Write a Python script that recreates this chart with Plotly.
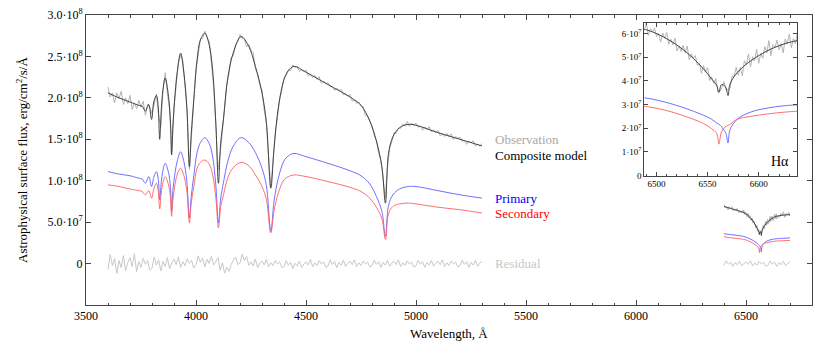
import plotly.graph_objects as go

# all fluxes in units of 1e8 erg/cm2/s/A

# model knots, blue part of the spectrum
model_wl = [3600, 3650, 3700, 3740, 3755, 3770, 3785, 3798, 3808, 3820,
            3828, 3835, 3842, 3850, 3860, 3875, 3884, 3889, 3895, 3905,
            3915, 3930, 3945, 3958, 3970, 3978, 3990, 4005, 4020, 4040,
            4060, 4075, 4090, 4102, 4112, 4125, 4145, 4170, 4205, 4240,
            4270, 4300, 4320, 4340, 4355, 4375, 4400, 4420, 4445, 4500,
            4600, 4700, 4750, 4790, 4820, 4845, 4861, 4875, 4895, 4925,
            4965, 5000, 5100, 5200, 5300]
composite = [2.06, 2.00, 1.95, 1.91, 1.90, 1.84, 1.92, 1.74, 1.95, 2.03,
             1.90, 1.50, 1.85, 2.10, 2.24, 2.02, 1.70, 1.31, 1.65, 2.05,
             2.32, 2.54, 2.30, 1.90, 1.17, 1.55, 1.98, 2.46, 2.70, 2.78,
             2.64, 2.35, 1.70, 0.97, 1.45, 1.75, 2.25, 2.55, 2.74, 2.62,
             2.38, 2.06, 1.70, 0.91, 1.40, 1.90, 2.22, 2.33, 2.38, 2.31,
             2.16, 2.01, 1.91, 1.72, 1.48, 1.17, 0.73, 1.33, 1.53, 1.64,
             1.68, 1.67, 1.58, 1.50, 1.42]
primary = [1.11, 1.08, 1.06, 1.03, 1.02, 0.97, 1.05, 0.93, 1.04, 1.11,
           1.03, 0.77, 0.98, 1.13, 1.21, 1.10, 0.92, 0.63, 0.88, 1.10,
           1.24, 1.35, 1.23, 1.00, 0.55, 0.80, 1.06, 1.34, 1.46, 1.52,
           1.45, 1.30, 0.95, 0.49, 0.78, 0.98, 1.24, 1.42, 1.52, 1.46,
           1.34, 1.15, 0.94, 0.39, 0.76, 1.04, 1.24, 1.30, 1.33, 1.29,
           1.21, 1.12, 1.06, 0.96, 0.81, 0.63, 0.33, 0.70, 0.83, 0.90,
           0.93, 0.93, 0.88, 0.83, 0.79]
secondary = [0.95, 0.93, 0.90, 0.88, 0.87, 0.83, 0.88, 0.79, 0.90, 0.97,
             0.88, 0.66, 0.85, 0.98, 1.05, 0.95, 0.80, 0.57, 0.77, 0.96,
             1.08, 1.15, 1.06, 0.88, 0.49, 0.72, 0.93, 1.15, 1.22, 1.25,
             1.20, 1.08, 0.80, 0.43, 0.68, 0.83, 1.04, 1.16, 1.22, 1.18,
             1.07, 0.93, 0.77, 0.37, 0.64, 0.86, 1.01, 1.05, 1.07, 1.05,
             0.99, 0.92, 0.87, 0.79, 0.68, 0.54, 0.29, 0.60, 0.69, 0.72,
             0.73, 0.72, 0.68, 0.65, 0.61]

# observed spectrum and residual, 10 A steps
obs_wl = list(range(3600, 5310, 10))
observation = [2.130, 2.010, 2.060, 1.940, 2.060, 1.990, 2.080, 1.920, 2.000, 1.930,
               2.030, 1.860, 1.940, 1.870, 1.970, 1.886, 1.960, 1.791, 1.928, 1.880,
               1.809, 1.932, 2.044, 1.787, 1.655, 2.093, 2.303, 2.048, 1.861, 1.349,
               1.890, 2.150, 2.425, 2.515, 2.450, 2.140, 1.830, 1.135, 1.640, 1.980,
               2.335, 2.520, 2.710, 2.715, 2.805, 2.725, 2.685, 2.420, 2.145, 1.685,
               1.130, 1.320, 1.635, 1.855, 2.160, 2.300, 2.480, 2.515, 2.640, 2.680,
               2.765, 2.720, 2.710, 2.615, 2.645, 2.575, 2.545, 2.350, 2.285, 2.155,
               2.088, 1.852, 1.704, 1.283, 0.931, 1.233, 1.565, 1.756, 1.974, 2.090,
               2.245, 2.266, 2.337, 2.329, 2.398, 2.367, 2.382, 2.319, 2.341, 2.310,
               2.338, 2.262, 2.284, 2.243, 2.271, 2.223, 2.255, 2.176, 2.204, 2.170,
               2.185, 2.136, 2.137, 2.089, 2.118, 2.087, 2.102, 2.039, 2.051, 2.020,
               2.038, 1.962, 1.974, 1.933, 1.951, 1.903, 1.895, 1.786, 1.784, 1.720,
               1.665, 1.546, 1.487, 1.329, 1.248, 1.027, 0.792, 1.139, 1.391, 1.470,
               1.578, 1.572, 1.634, 1.633, 1.681, 1.663, 1.715, 1.656, 1.694, 1.670,
               1.695, 1.646, 1.657, 1.609, 1.648, 1.617, 1.652, 1.589, 1.611, 1.580,
               1.608, 1.542, 1.564, 1.533, 1.571, 1.533, 1.565, 1.496, 1.534, 1.510,
               1.525, 1.476, 1.487, 1.439, 1.478, 1.457, 1.482, 1.419, 1.441, 1.420,
               1.448]
residual = [-0.072, 0.108, -0.024, 0.060, -0.120, 0.036, -0.048, 0.096, -0.084, 0.012,
            0.072, -0.036, 0.120, -0.096, 0.024, -0.045, 0.063, -0.009, 0.036, -0.081,
            -0.054, 0.081, -0.018, 0.045, -0.090, 0.027, -0.036, 0.072, -0.063, 0.009,
            0.052, -0.011, 0.080, -0.046, 0.024, -0.025, 0.059, 0.003, 0.038, -0.053,
            -0.012, 0.093, 0.016, 0.065, -0.040, 0.051, 0.002, 0.086, -0.019, 0.037,
            0.072, -0.081, 0.010, -0.116, -0.046, -0.095, -0.011, 0.043, 0.078, -0.013,
            0.008, 0.113, 0.036, 0.085, -0.020, 0.021, -0.028, 0.056, -0.049, 0.007,
            0.030, -0.015, 0.050, -0.040, 0.010, -0.025, 0.035, -0.005, 0.020, -0.045,
            -0.040, 0.035, -0.020, 0.015, -0.060, 0.005, -0.030, 0.030, -0.045, -0.005,
            0.020, -0.015, 0.050, -0.040, 0.010, -0.025, 0.035, -0.005, 0.020, -0.045,
            -0.030, 0.045, -0.010, 0.025, -0.050, 0.015, -0.020, 0.040, -0.035, 0.005,
            0.027, -0.014, 0.045, -0.036, 0.009, -0.023, 0.032, -0.005, 0.018, -0.041,
            -0.027, 0.041, -0.009, 0.023, -0.045, 0.014, -0.018, 0.036, -0.032, 0.005,
            0.027, -0.014, 0.045, -0.036, 0.009, -0.023, 0.032, -0.005, 0.018, -0.041,
            -0.027, 0.041, -0.009, 0.023, -0.045, 0.014, -0.018, 0.036, -0.032, 0.005,
            0.027, -0.014, 0.045, -0.036, 0.009, -0.023, 0.032, -0.005, 0.018, -0.041,
            -0.027, 0.041, -0.009, 0.023, -0.045, 0.014, -0.018, 0.036, -0.032, 0.005,
            0.027]

# H-alpha region
ha_model_wl = [6400, 6430, 6460, 6489, 6507, 6523, 6536, 6546, 6554, 6559,
               6561, 6563.5, 6566, 6568, 6570, 6572, 6579, 6592, 6608, 6625,
               6638, 6670, 6700]
ha_composite = [0.690, 0.665, 0.642, 0.617, 0.585, 0.542, 0.495, 0.450, 0.408, 0.380,
                0.351, 0.384, 0.382, 0.370, 0.338, 0.387, 0.435, 0.484, 0.526, 0.556,
                0.570, 0.585, 0.590]
ha_primary = [0.360, 0.350, 0.340, 0.328, 0.312, 0.292, 0.272, 0.255, 0.238, 0.222,
              0.217, 0.208, 0.192, 0.178, 0.138, 0.195, 0.238, 0.268, 0.285, 0.295,
              0.299, 0.305, 0.310]
ha_secondary = [0.325, 0.312, 0.302, 0.292, 0.278, 0.258, 0.238, 0.220, 0.198, 0.177,
                0.133, 0.184, 0.200, 0.208, 0.212, 0.217, 0.238, 0.250, 0.260, 0.268,
                0.272, 0.276, 0.280]
ha_obs_wl = list(range(6400, 6490, 6)) + list(range(6488, 6642, 2)) + list(range(6646, 6704, 6))
ha_observation = [0.711, 0.673, 0.686, 0.648, 0.685, 0.662, 0.687, 0.638, 0.660, 0.638,
                  0.666, 0.613, 0.635, 0.611, 0.639, 0.612, 0.646, 0.592, 0.621, 0.606,
                  0.623, 0.587, 0.601, 0.564, 0.602, 0.580, 0.604, 0.554, 0.576, 0.552,
                  0.580, 0.526, 0.548, 0.524, 0.550, 0.519, 0.547, 0.489, 0.515, 0.495,
                  0.507, 0.465, 0.474, 0.432, 0.465, 0.437, 0.456, 0.401, 0.417, 0.388,
                  0.410, 0.355, 0.355, 0.372, 0.397, 0.363, 0.363, 0.370, 0.421, 0.420,
                  0.458, 0.424, 0.457, 0.421, 0.485, 0.468, 0.514, 0.460, 0.502, 0.484,
                  0.533, 0.474, 0.515, 0.496, 0.545, 0.518, 0.570, 0.506, 0.553, 0.541,
                  0.572, 0.531, 0.558, 0.518, 0.577, 0.555, 0.598, 0.540, 0.578, 0.556,
                  0.602, 0.539, 0.578, 0.557, 0.604, 0.574, 0.625, 0.558, 0.603, 0.588,
                  0.617, 0.574]
ha_res_wl = list(range(6400, 6710, 10))
ha_residual = [-0.021, 0.032, -0.007, 0.018, -0.035, 0.011, -0.014, 0.028, -0.025, 0.004,
               0.021, -0.011, 0.035, -0.028, 0.007, -0.018, 0.025, -0.004, 0.014, -0.032,
               -0.021, 0.032, -0.007, 0.018, -0.035, 0.011, -0.014, 0.028, -0.025, 0.004,
               0.021]
HALPHA = 6562.8

y_ticks = [0, 0.5, 1.0, 1.5, 2.0, 2.5, 3.0]
y_ticktext = ["0", "5.0·10<sup>7</sup>", "1.0·10<sup>8</sup>", "1.5·10<sup>8</sup>",
              "2.0·10<sup>8</sup>", "2.5·10<sup>8</sup>", "3.0·10<sup>8</sup>"]
inset_yticks = [0, 0.1, 0.2, 0.3, 0.4, 0.5, 0.6]
inset_ticktext = ["0"] + [f"{i}·10<sup>7</sup>" for i in range(1, 7)]

FONT = "Liberation Serif"
OBS_C, MOD_C, PRI_C, SEC_C, RES_C = "#b4b4b4", "#333333", "#6060ff", "#ff6060", "#c8c8c8"

fig = go.Figure()

# main panel: blue segment and H-alpha segment
fig.add_trace(go.Scatter(x=obs_wl, y=observation, mode="lines", line=dict(color=OBS_C, width=1)))
fig.add_trace(go.Scatter(x=ha_obs_wl, y=ha_observation, mode="lines", line=dict(color=OBS_C, width=1)))
fig.add_trace(go.Scatter(x=obs_wl, y=residual, mode="lines", line=dict(color=RES_C, width=1)))
fig.add_trace(go.Scatter(x=ha_res_wl, y=ha_residual, mode="lines", line=dict(color=RES_C, width=1)))
for wl, vals, c in [(model_wl, composite, MOD_C), (model_wl, primary, PRI_C), (model_wl, secondary, SEC_C),
                    (ha_model_wl, ha_composite, MOD_C), (ha_model_wl, ha_primary, PRI_C),
                    (ha_model_wl, ha_secondary, SEC_C)]:
    fig.add_trace(go.Scatter(x=wl, y=vals, mode="lines", line=dict(color=c, width=0.9, shape="spline")))

# inset around H-alpha
fig.add_trace(go.Scatter(x=ha_obs_wl, y=ha_observation, mode="lines", xaxis="x2", yaxis="y2",
                         line=dict(color=OBS_C, width=1)))
for vals, c in [(ha_composite, MOD_C), (ha_primary, PRI_C), (ha_secondary, SEC_C)]:
    fig.add_trace(go.Scatter(x=ha_model_wl, y=vals, mode="lines", xaxis="x2", yaxis="y2",
                             line=dict(color=c, width=0.9, shape="spline")))

fig.add_shape(type="line", x0=HALPHA, x1=HALPHA, y0=0, y1=1, xref="x2", yref="y2 domain",
              line=dict(color="#dcdcdc", width=2), layer="below")

axis_style = dict(showline=True, linecolor="#444444", linewidth=1, mirror="allticks", ticks="inside",
                  tickcolor="#444444", showgrid=False, zeroline=False, automargin=False)

fig.update_layout(
    width=830, height=344, margin=dict(l=86, r=18, t=15, b=39),
    plot_bgcolor="white", paper_bgcolor="white", showlegend=False,
    font=dict(family=FONT, size=12, color="black"),
    xaxis=dict(range=[3500, 6800], tick0=3500, dtick=500, ticklen=5,
               minor=dict(tick0=3500, dtick=100, ticks="inside", ticklen=2.5, tickcolor="#444444"),
               **axis_style),
    yaxis=dict(range=[-0.5, 3.0001], tickvals=y_ticks, ticktext=y_ticktext, ticklen=5,
               title=dict(text="Astrophysical surface flux, erg/cm<sup>2</sup>/s/Å", font=dict(size=13), standoff=16),
               **axis_style),
    xaxis2=dict(domain=[0.769, 0.980], anchor="y2", range=[6488, 6638], tickvals=[6500, 6550, 6600],
                ticklen=4, tickfont=dict(size=9),
                minor=dict(tick0=6500, dtick=10, ticks="inside", ticklen=2, tickcolor="#444444"), **axis_style),
    yaxis2=dict(domain=[0.446, 0.973], anchor="x2", range=[0, 0.645], tickvals=inset_yticks,
                ticktext=inset_ticktext, ticklen=4, tickfont=dict(size=9), **axis_style),
)

# x axis title as annotation so it sits inside the bottom margin
fig.add_annotation(x=0.5, y=-38 / 290, xref="paper", yref="paper", text="Wavelength, Å", showarrow=False,
                   xanchor="center", yanchor="bottom", font=dict(size=13, color="black"))

labels = [("Observation", observation[-1] + 0.05, "#a8a8a8"), ("Composite model", composite[-1] - 0.12, "black"),
          ("Primary", primary[-1], "blue"), ("Secondary", secondary[-1], "red"), ("Residual", 0, "#c8c8c8")]
for text, y, c in labels:
    fig.add_annotation(x=5350, y=y, text=text, showarrow=False, xanchor="left", yanchor="middle",
                       font=dict(size=13, color=c))
fig.add_annotation(x=0.96, y=0.09, xref="x2 domain", yref="y2 domain", text="Hα", showarrow=False,
                   xanchor="right", yanchor="middle", font=dict(size=14, color="black"))

# drop the default page margin so the figure starts at the window corner
fig.write_html("out.html", config={"displayModeBar": False},
               post_script="document.body.style.margin = '0';")
